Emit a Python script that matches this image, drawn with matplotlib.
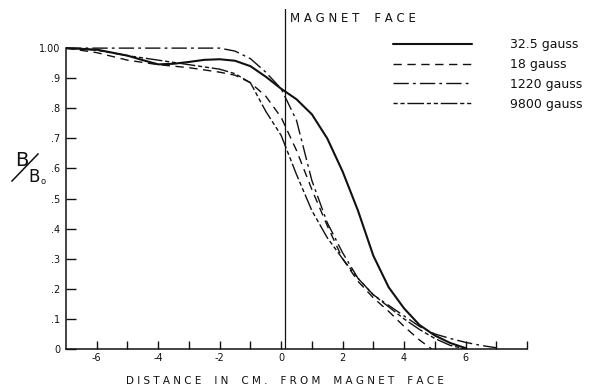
import matplotlib
matplotlib.use("Agg")
import matplotlib.pyplot as plt
from matplotlib.ticker import FixedLocator
from matplotlib.lines import Line2D

# ---- data ----
x_325 = [-7, -6, -5, -4.5, -4, -3.5, -3, -2.5, -2, -1.5, -1, -0.5, 0, 0.5, 1, 1.5, 2, 2.5, 3, 3.5, 4, 4.5, 5, 5.5, 6]
y_325 = [1.0, 0.995, 0.975, 0.96, 0.946, 0.948, 0.954, 0.961, 0.963, 0.958, 0.94, 0.905, 0.865, 0.83, 0.78, 0.70, 0.59, 0.46, 0.31, 0.205, 0.135, 0.08, 0.045, 0.02, 0.003]

x_18 = [-7, -6, -5, -4, -3, -2, -1.5, -1, -0.5, 0, 0.5, 1, 1.5, 2, 2.5, 3, 3.5, 4, 4.5, 4.9]
y_18 = [1.0, 0.985, 0.96, 0.945, 0.935, 0.92, 0.91, 0.885, 0.84, 0.77, 0.66, 0.53, 0.41, 0.30, 0.225, 0.17, 0.125, 0.075, 0.03, 0.0]

x_1220 = [-7, -6, -5, -4, -3, -2, -1.5, -1, -0.5, 0, 0.5, 1, 1.5, 2, 2.5, 3, 3.5, 4, 4.5, 5, 5.5, 6, 6.5, 7]
y_1220 = [1.0, 1.0, 1.0, 1.0, 1.0, 1.0, 0.99, 0.965, 0.92, 0.865, 0.76, 0.56, 0.42, 0.32, 0.235, 0.18, 0.145, 0.11, 0.075, 0.05, 0.035, 0.022, 0.012, 0.004]

x_9800 = [-7, -6, -5, -4, -3, -2, -1.5, -1, -0.5, 0, 0.5, 1, 1.5, 2, 2.5, 3, 3.5, 4, 4.5, 5, 5.5, 6]
y_9800 = [1.0, 0.993, 0.975, 0.96, 0.945, 0.93, 0.915, 0.885, 0.79, 0.71, 0.58, 0.46, 0.37, 0.30, 0.235, 0.18, 0.14, 0.10, 0.065, 0.035, 0.012, 0.0]

series_labels = ["32.5 gauss", "18 gauss", "1220 gauss", "9800 gauss"]

y_ticks = [0, 0.1, 0.2, 0.3, 0.4, 0.5, 0.6, 0.7, 0.8, 0.9, 1.0]
y_tick_labels = ["0", ".1", ".2", ".3", ".4", ".5", ".6", ".7", ".8", ".9", "1.00"]
x_major = [-6, -4, -2, 0, 2, 4, 6]
x_major_labels = ["-6", "-4", "-2", "0", "2", "4", "6"]
x_minor = [-5, -3, -1, 1, 3, 5, 7, 8]

MAGNET_FACE_X = 0.12

# ---- figure ----
W, H = 603, 389
fig = plt.figure(figsize=(W / 100, H / 100), dpi=100)
fig.patch.set_facecolor("white")
ax = fig.add_axes([66 / W, 1 - 349 / H, (527 - 66) / W, (349 - 9) / H])
ax.set_xlim(-7, 8)
ax.set_ylim(0, 1.13)

c = "#111111"
l1, = ax.plot(x_325, y_325, color=c, lw=1.5, solid_capstyle="round")
l2, = ax.plot(x_18, y_18, color=c, lw=1.0, linestyle=(0, (6, 4)))
l3, = ax.plot(x_1220, y_1220, color=c, lw=1.0, linestyle=(0, (11, 3, 2, 3)))
l4, = ax.plot(x_9800, y_9800, color=c, lw=1.0, linestyle=(0, (3, 2, 3, 2, 12, 2)))

ax.axvline(MAGNET_FACE_X, color=c, lw=0.9, ymin=0, ymax=1)

for s in ["top", "right"]:
    ax.spines[s].set_visible(False)
ax.spines["left"].set_bounds(0, 1.0)
ax.spines["bottom"].set_bounds(-7, 8)
for s in ["left", "bottom"]:
    ax.spines[s].set_color(c)
    ax.spines[s].set_linewidth(1.1)

ax.yaxis.set_major_locator(FixedLocator(y_ticks))
ax.set_yticklabels(y_tick_labels)
ax.xaxis.set_major_locator(FixedLocator(x_major))
ax.set_xticklabels(x_major_labels)
ax.xaxis.set_minor_locator(FixedLocator(x_minor))
ax.tick_params(axis="y", direction="in", length=7, width=1, colors=c, labelsize=7, pad=4)
ax.tick_params(axis="x", which="major", direction="in", length=6, width=1, colors=c, labelsize=7, pad=3)
ax.tick_params(axis="x", which="minor", direction="in", length=6, width=1, colors=c)

leg = ax.legend([l1, l2, l3, l4], series_labels, loc="upper left",
                bbox_to_anchor=(393 / W, 1 - 38 / H), bbox_transform=fig.transFigure,
                frameon=False, fontsize=9, handlelength=6.3, handletextpad=3.1,
                labelspacing=0.55, borderpad=0, borderaxespad=0)
for t in leg.get_texts():
    t.set_color(c)

def fx(px):
    return px / W

def fy(py):
    return 1 - py / H

fig.text(fx(290), fy(18), "M A G N E T    F A C E", fontsize=8.5, color=c, va="center", ha="left")
fig.text(fx(285), fy(381), "D I S T A N C E    I N    C M .    F R O M    M A G N E T    F A C E",
         fontsize=7.5, color=c, va="center", ha="center")

# B / B0 label
fig.text(fx(22), fy(160), "B", fontsize=14, color=c, va="center", ha="center")
fig.add_artist(Line2D([fx(12), fx(38)], [fy(181), fy(154)], color=c, lw=1.1,
                      transform=fig.transFigure))
fig.text(fx(34), fy(177), "B", fontsize=12, color=c, va="center", ha="center")
fig.text(fx(43), fy(182), "o", fontsize=6, color=c, va="center", ha="center")

fig.savefig("out.png", dpi=100, facecolor="white")
